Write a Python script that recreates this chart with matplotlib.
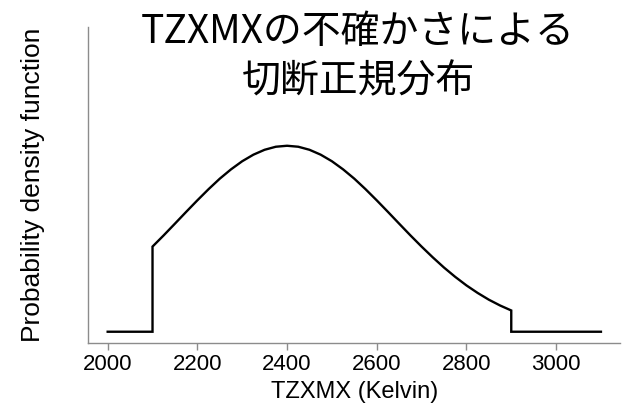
import matplotlib
matplotlib.use("Agg")
import matplotlib.pyplot as plt

# values (density in units of 1e-3 per Kelvin)
support_x = [2000, 2100, 2900, 3100]   # plotted range and truncation points
curve_x = [2100, 2125, 2150, 2175, 2200, 2225, 2250, 2275, 2300, 2325, 2350, 2375,
           2400, 2425, 2450, 2475, 2500, 2525, 2550, 2575, 2600, 2625, 2650, 2675,
           2700, 2725, 2750, 2775, 2800, 2825, 2850, 2875, 2900]
curve_y = [0.869, 0.984, 1.103, 1.223, 1.341, 1.455, 1.562, 1.657, 1.740, 1.807, 1.857, 1.888,
           1.898, 1.888, 1.857, 1.807, 1.740, 1.657, 1.562, 1.455, 1.341, 1.223, 1.103, 0.984,
           0.869, 0.759, 0.655, 0.560, 0.473, 0.396, 0.327, 0.268, 0.217]
tick_values = [2000, 2200, 2400, 2600, 2800, 3000]

title_text = "TZXMXの不確かさによる\n切断正規分布"
x_label = "TZXMX (Kelvin)"
y_label = "Probability density function"

# full step shape: zero outside the truncation bounds
line_x = [support_x[0], support_x[1]] + curve_x + [support_x[2], support_x[3]]
line_y = [0.0, 0.0] + curve_y + [0.0, 0.0]

fig = plt.figure(figsize=(6.25, 4.05), dpi=100)
ax = fig.add_axes([88.3 / 625, 1 - 343 / 405, (620 - 88.3) / 625, (343 - 27) / 405])

ax.plot(line_x, line_y, color="black", linewidth=1.7, solid_joinstyle="miter")

ax.set_xlim(1956.8, 3142.5)
ax.set_ylim(-0.115, 3.11)

for side in ["top", "right"]:
    ax.spines[side].set_visible(False)
for side in ["left", "bottom"]:
    ax.spines[side].set_color("#8c8c8c")
    ax.spines[side].set_linewidth(1.0)

ax.set_xticks(tick_values)
ax.set_xticklabels([str(v) for v in tick_values], fontsize=16, family="Liberation Sans")
ax.tick_params(axis="x", direction="out", length=5, width=1, color="#8c8c8c", pad=3)
ax.set_yticks([])

ax.set_xlabel(x_label, fontsize=17, family="Liberation Sans", labelpad=4)
ax.set_ylabel(y_label, fontsize=19, family="Liberation Sans", labelpad=31)

fig.text(358 / 625, 1 - 57 / 405, title_text, ha="center", va="center", fontsize=28,
         family=["Noto Sans CJK JP", "DejaVu Sans"], linespacing=1.3)

fig.savefig("out.png", dpi=100, facecolor="white")
